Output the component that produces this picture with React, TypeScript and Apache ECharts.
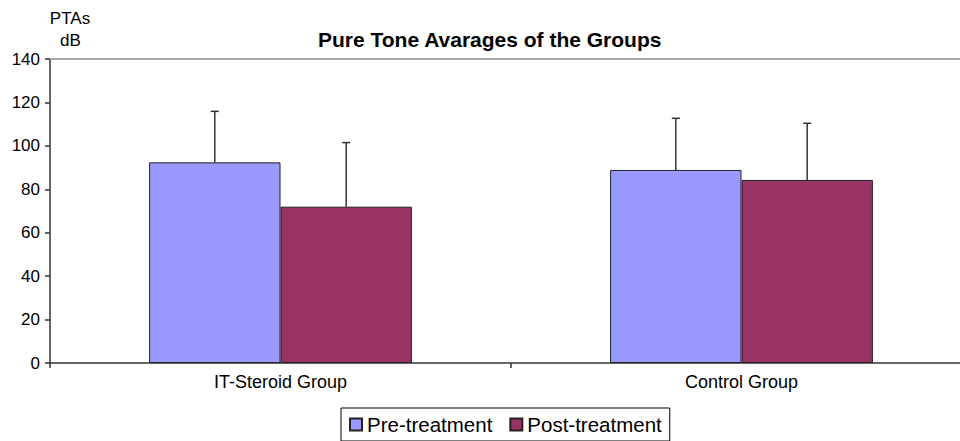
import React, { useEffect, useRef } from "react";
import * as echarts from "echarts";

const categories = ["IT-Steroid Group", "Control Group"];
const seriesNames = ["Pre-treatment", "Post-treatment"];
const preMeans = [92.4, 88.9];
const postMeans = [72.0, 84.3];
const preSD = [23.5, 23.8];
const postSD = [29.5, 26.1];
const yTicks = { min: 0, max: 140, interval: 20 };

const PRE_COLOR = "#9999ff";
const POST_COLOR = "#993366";
const GAP = 0.43;

export default function App() {
  const ref = useRef<HTMLDivElement>(null);
  useEffect(() => {
    document.body.style.margin = "0";
    const chart = echarts.init(ref.current!, null, { renderer: "svg" });
    const errData: number[][] = [];
    categories.forEach((_, i) => {
      errData.push([i, 0, preMeans[i], preMeans[i] + preSD[i]]);
      errData.push([i, 1, postMeans[i], postMeans[i] + postSD[i]]);
    });
    const font = "Liberation Sans, Arial, sans-serif";
    chart.setOption({
      animation: false,
      textStyle: { fontFamily: font },
      title: {
        text: "Pure Tone Avarages of the Groups",
        left: 313,
        top: 24,
        textStyle: { fontSize: 21, fontWeight: "bold", color: "#000", fontFamily: font },
      },
      graphic: [
        {
          type: "text",
          x: 70,
          y: 27,
          style: {
            text: "PTAs",
            fontSize: 17,
            fill: "#000",
            fontFamily: font,
            textAlign: "center",
            textVerticalAlign: "bottom",
          },
        },
        {
          type: "text",
          x: 70.5,
          y: 49,
          style: {
            text: "dB",
            fontSize: 17,
            fill: "#000",
            fontFamily: font,
            textAlign: "center",
            textVerticalAlign: "bottom",
          },
        },
      ],
      legend: {
        data: seriesNames,
        left: 341,
        top: 408,
        orient: "horizontal",
        borderColor: "#000",
        borderWidth: 1,
        padding: [6, 8, 6, 8],
        itemWidth: 12,
        itemHeight: 12,
        itemGap: 17,
        icon: "rect",
        textStyle: { fontSize: 20.5, color: "#000", fontFamily: font },
      },
      grid: { left: 50, top: 59, width: 922, height: 304, containLabel: false },
      xAxis: {
        type: "category",
        data: categories,
        axisLine: { show: true, lineStyle: { color: "#333", width: 1.5 } },
        axisTick: { show: true, alignWithLabel: false, length: 5, lineStyle: { color: "#333", width: 1.5 } },
        axisLabel: { fontSize: 18, color: "#000", margin: 10, fontFamily: font },
        splitLine: { show: false },
      },
      yAxis: {
        type: "value",
        min: yTicks.min,
        max: yTicks.max,
        interval: yTicks.interval,
        axisLine: { show: true, lineStyle: { color: "#333", width: 1.5 } },
        axisTick: { show: true, length: 5, lineStyle: { color: "#333", width: 1.5 } },
        axisLabel: { fontSize: 17, color: "#000", margin: 10, fontFamily: font },
        splitLine: { show: false },
      },
      series: [
        {
          name: seriesNames[0],
          type: "bar",
          data: preMeans,
          barGap: "0%",
          barCategoryGap: GAP * 100 + "%",
          itemStyle: { color: PRE_COLOR, borderColor: "#222", borderWidth: 1 },
          markLine: {
            silent: true,
            symbol: "none",
            label: { show: false },
            lineStyle: { color: "#aaa", width: 2, type: "solid" },
            data: [{ yAxis: 140 }],
          },
        },
        {
          name: seriesNames[1],
          type: "bar",
          data: postMeans,
          barGap: "0%",
          barCategoryGap: GAP * 100 + "%",
          itemStyle: { color: POST_COLOR, borderColor: "#222", borderWidth: 1 },
        },
        {
          type: "custom",
          name: "err",
          data: errData,
          z: 10,
          renderItem: (params: any, api: any) => {
            const cat = api.value(0);
            const idx = api.value(1);
            const mean = api.value(2);
            const top = api.value(3);
            const band = api.size([1, 0])[0];
            const barW = (band * (1 - GAP)) / 2;
            const c = api.coord([cat, mean]);
            const t = api.coord([cat, top]);
            const x = c[0] + (idx === 0 ? -barW / 2 : barW / 2);
            const cap = 4;
            const st = { stroke: "#333", lineWidth: 1.5 };
            return {
              type: "group",
              children: [
                { type: "line", shape: { x1: x, y1: c[1], x2: x, y2: t[1] }, style: st },
                { type: "line", shape: { x1: x - cap, y1: t[1], x2: x + cap, y2: t[1] }, style: st },
              ],
            };
          },
        },
      ],
    });
    return () => chart.dispose();
  }, []);
  return (
    <div style={{ width: 960, height: 441, overflow: "hidden", position: "relative" }}>
      <div ref={ref} style={{ width: 990, height: 441 }} />
    </div>
  );
}
